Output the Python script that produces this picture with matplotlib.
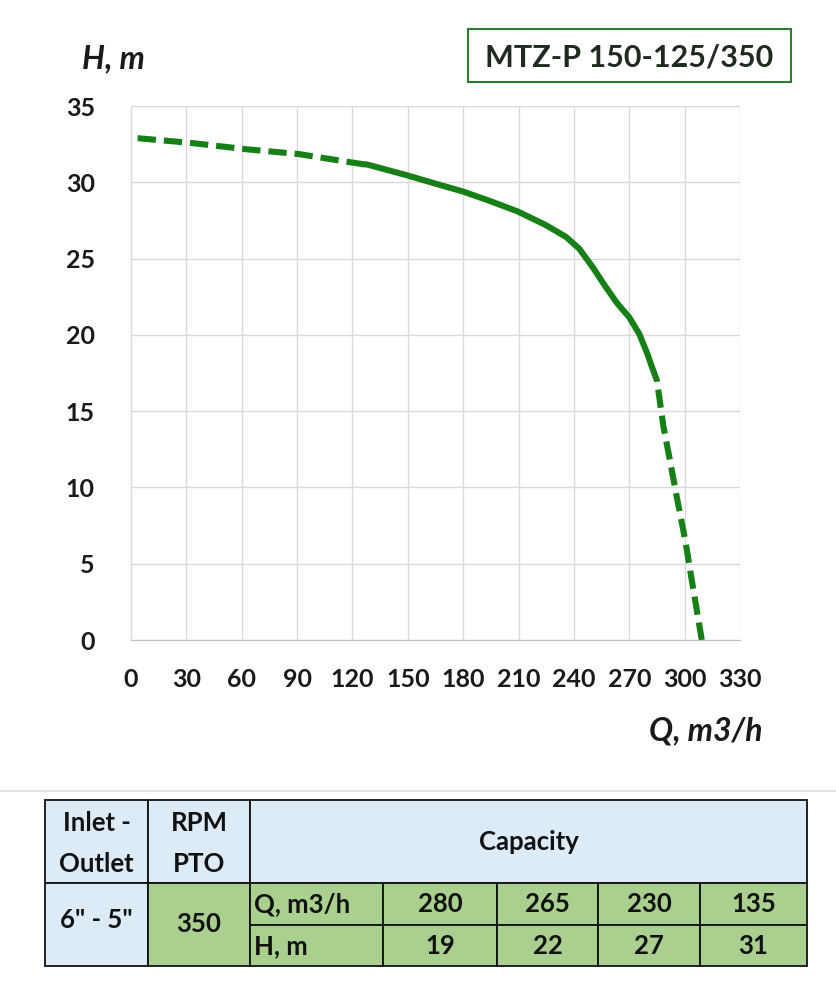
import matplotlib
matplotlib.use("Agg")
import matplotlib.pyplot as plt
from matplotlib.patches import Rectangle

plt.rcParams['font.family'] = ['Lato', 'DejaVu Sans']

# --- data ---
q_dash_left = [3.6, 33.3, 62.1, 90.9, 119.6, 126]
h_dash_left = [32.89, 32.57, 32.17, 31.85, 31.3, 31.18]
q_solid = [126, 127.8, 149.5, 166.7, 179.8, 193.9, 209.7, 224.7, 235.6, 242.8, 250.1, 257.3, 263.7, 270.0, 275.5, 280.0, 281.8]
h_solid = [31.18, 31.17, 30.46, 29.85, 29.4, 28.8, 28.08, 27.2, 26.43, 25.66, 24.45, 23.13, 22.03, 21.15, 20.04, 18.7, 18.06]
q_dash_right = [281.8, 285, 288.5, 292, 295.7, 300.3, 303.9, 309.3]
h_dash_right = [18.06, 17.0, 14.0, 11.8, 9.4, 6.55, 3.9, 0]

x_ticks = [0, 30, 60, 90, 120, 150, 180, 210, 240, 270, 300, 330]
y_ticks = [0, 5, 10, 15, 20, 25, 30, 35]

title = "MTZ-P 150-125/350"
inlet_outlet = '6" - 5"'
rpm_pto = "350"
table_q = [280, 265, 230, 135]
table_h = [19, 22, 27, 31]

green = "#167F16"
txt = "#1A1A1A"

fig = plt.figure(figsize=(8.37, 10), dpi=100)
ax = fig.add_axes([131/837, 1-640/1000, (740-131)/837, (640-106)/1000])
dash = (0, (3.0, 1.3))
ax.plot(q_dash_left, h_dash_left, color=green, lw=4.4, linestyle=dash)
ax.plot(q_solid, h_solid, color=green, lw=4.4, solid_capstyle='round', solid_joinstyle='round')
ax.plot(q_dash_right, h_dash_right, color=green, lw=4.4, linestyle=dash)
ax.set_xlim(0, 330)
ax.set_ylim(0, 35)
ax.set_xticks(x_ticks)
ax.set_yticks(y_ticks)
ax.grid(True, color="#D9D9D9", lw=1)
ax.set_axisbelow(True)
for s in ['top', 'right']:
    ax.spines[s].set_visible(False)
ax.spines['left'].set_color("#D9D9D9")
ax.spines['bottom'].set_color("#BFBFBF")
ax.tick_params(length=0)
ax.tick_params(axis='x', pad=20)
ax.tick_params(axis='y', pad=26)
for lab in ax.get_xticklabels() + ax.get_yticklabels():
    lab.set_fontweight('bold')
    lab.set_fontsize(18)
    lab.set_color(txt)

fig.text(113/837, 1-59/1000, "H, m", fontsize=23, style='italic', fontweight='bold',
         ha='center', va='center', color=txt)
fig.text(706/837, 1-731/1000, "Q, m3/h", fontsize=23, style='italic', fontweight='bold',
         ha='center', va='center', color=txt)

# title box
fig.patches.append(Rectangle((468/837, 1-82/1000), (791-468)/837, (82-29)/1000,
                             transform=fig.transFigure, fill=False, edgecolor="#2E7D32", lw=1.5))
fig.text((468+791)/2/837, 1-57/1000, title, fontsize=22, fontweight='bold',
         ha='center', va='center', color="#1E2B1E")

# separator line
fig.add_artist(plt.Line2D([0, 1], [1-791/1000, 1-791/1000], transform=fig.transFigure,
                          color="#DDDDDD", lw=1.2))

# table in pixel coordinates
tax = fig.add_axes([0, 0, 1, 1])
tax.set_xlim(0, 837)
tax.set_ylim(1000, 0)
tax.axis('off')
blue = "#DDEBF7"
lgreen = "#A9D08E"
cols = [45, 148, 250, 383, 497, 598, 700, 807]
rows = [800, 883, 925, 966]

def cell(x0, x1, y0, y1, color):
    tax.add_patch(Rectangle((x0, y0), x1-x0, y1-y0, facecolor=color, edgecolor="#111111", lw=1.3))

cell(cols[0], cols[1], rows[0], rows[1], blue)
cell(cols[1], cols[2], rows[0], rows[1], blue)
cell(cols[2], cols[7], rows[0], rows[1], blue)
cell(cols[0], cols[1], rows[1], rows[3], blue)
cell(cols[1], cols[2], rows[1], rows[3], lgreen)
for i in range(2, 7):
    cell(cols[i], cols[i+1], rows[1], rows[2], lgreen)
    cell(cols[i], cols[i+1], rows[2], rows[3], lgreen)

fs = 18.5
tc = "#111111"
kw = dict(va='center', fontsize=fs, fontweight='bold', color=tc)
tax.text((cols[0]+cols[1])/2, rows[0]+23, "Inlet -", ha='center', **kw)
tax.text((cols[0]+cols[1])/2, rows[0]+64, "Outlet", ha='center', **kw)
tax.text((cols[1]+cols[2])/2, rows[0]+23, "RPM", ha='center', **kw)
tax.text((cols[1]+cols[2])/2, rows[0]+64, "PTO", ha='center', **kw)
tax.text((cols[2]+cols[7])/2, (rows[0]+rows[1])/2 + 1, "Capacity", ha='center', **kw)
tax.text((cols[0]+cols[1])/2, (rows[1]+rows[3])/2 - 4, inlet_outlet, ha='center', **kw)
tax.text((cols[1]+cols[2])/2, (rows[1]+rows[3])/2, rpm_pto, ha='center', **kw)
tax.text(cols[2]+4, (rows[1]+rows[2])/2, "Q, m3/h", ha='left', **kw)
tax.text(cols[2]+4, (rows[2]+rows[3])/2 + 1, "H, m", ha='left', **kw)
for i, (qv, hv) in enumerate(zip(table_q, table_h)):
    cx = (cols[3+i]+cols[4+i])/2
    tax.text(cx, (rows[1]+rows[2])/2, str(qv), ha='center', **kw)
    tax.text(cx, (rows[2]+rows[3])/2 + 1, str(hv), ha='center', **kw)

fig.savefig("out.png", dpi=100)
